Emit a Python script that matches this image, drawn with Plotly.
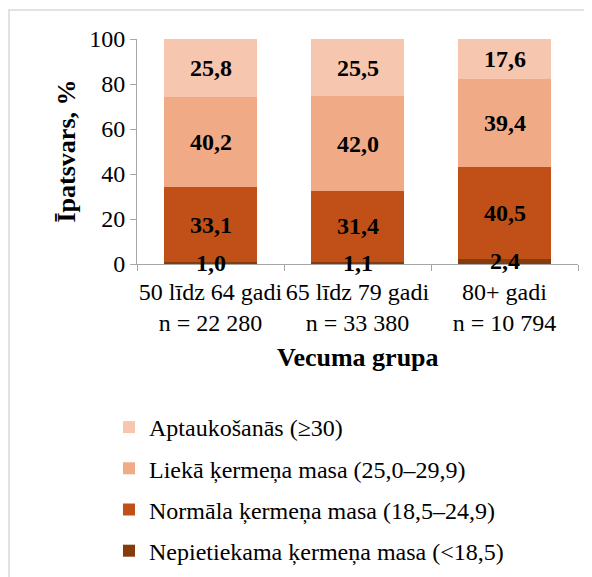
import plotly.graph_objects as go

categories = ["50 līdz 64 gadi<br>n = 22 280", "65 līdz 79 gadi<br>n = 33 380", "80+ gadi<br>n = 10 794"]
series_names = [
    "Nepietiekama ķermeņa masa (<18,5)",
    "Normāla ķermeņa masa (18,5–24,9)",
    "Liekā ķermeņa masa (25,0–29,9)",
    "Aptaukošanās (≥30)",
]
nepietiekama = [1.0, 1.1, 2.4]
normala = [33.1, 31.4, 40.5]
lieka = [40.2, 42.0, 39.4]
aptaukosanas = [25.8, 25.5, 17.6]
series_values = [nepietiekama, normala, lieka, aptaukosanas]
colors = ["#843C0C", "#C05017", "#F0AA85", "#F7C6AE"]

FONT = "Liberation Serif"

W, H = 584, 569
L, R, T, B = 129, 14, 31, 313
PW, PH = W - L - R, H - T - B

fig = go.Figure()
for i, (name, vals, col) in enumerate(zip(series_names, series_values, colors)):
    fig.add_trace(go.Bar(
        x=categories, y=vals, name=name,
        marker=dict(color=col, line=dict(width=0)),
        legendgroup=f"g{i}",
        legendrank=10 - i,
    ))

# data labels at the middle of each stacked segment
label_anns = []
base = [0.0] * len(categories)
for vals in series_values:
    for j, v in enumerate(vals):
        label_anns.append(dict(
            x=categories[j], y=base[j] + v / 2, xref="x", yref="y",
            text="<b>" + f"{v:.1f}".replace(".", ",") + "</b>",
            showarrow=False, xanchor="center", yanchor="middle",
            font=dict(family=FONT, size=24, color="black"),
        ))
        base[j] += v

fig.update_layout(
    width=W, height=H,
    barmode="stack", bargap=0.37,
    paper_bgcolor="white", plot_bgcolor="white",
    margin=dict(l=L, r=R, t=T, b=B, autoexpand=False),
    font=dict(family=FONT, size=24, color="black"),
    showlegend=True,
    legend=dict(
        traceorder="grouped", tracegroupgap=7,
        xref="container", yref="container",
        x=101/W, y=1 - 397/H, xanchor="left", yanchor="top",
        font=dict(family=FONT, size=24, color="black"),
        bgcolor="rgba(0,0,0,0)",
    ),
    yaxis=dict(
        range=[0, 100], tickvals=[0, 20, 40, 60, 80, 100],
        showgrid=False, zeroline=False,
        showline=True, linecolor="#A6A6A6", linewidth=1,
        ticks="outside", ticklen=6, tickcolor="#A6A6A6",
        tickfont=dict(family=FONT, size=24, color="black"),
    ),
    xaxis=dict(
        showgrid=False, showline=True, linecolor="#A6A6A6", linewidth=1,
        ticks="outside", ticklen=6, tickcolor="#A6A6A6", tickson="boundaries",
        tickangle=0, ticklabelstandoff=6,
        tickfont=dict(family=FONT, size=24, color="black"),
    ),
    annotations=label_anns + [
        dict(text="<b>Īpatsvars, %</b>", xref="paper", yref="paper",
             x=-71/PW, y=0.5, xanchor="center", yanchor="middle", textangle=-90,
             showarrow=False, font=dict(family=FONT, size=26, color="black")),
        dict(text="<b>Vecuma grupa</b>", xref="paper", yref="paper",
             x=0.5, y=-93/PH, xanchor="center", yanchor="middle",
             showarrow=False, font=dict(family=FONT, size=26, color="black")),
    ],
    shapes=[dict(type="rect", xref="paper", yref="paper",
                 x0=-(L - 1)/PW, x1=1 + 40/PW, y0=-(B + 20)/PH, y1=1 + (T - 2)/PH,
                 line=dict(color="#D9D9D9", width=1.5), fillcolor="rgba(0,0,0,0)", layer="below")],
)

fig.write_html("out.html")
